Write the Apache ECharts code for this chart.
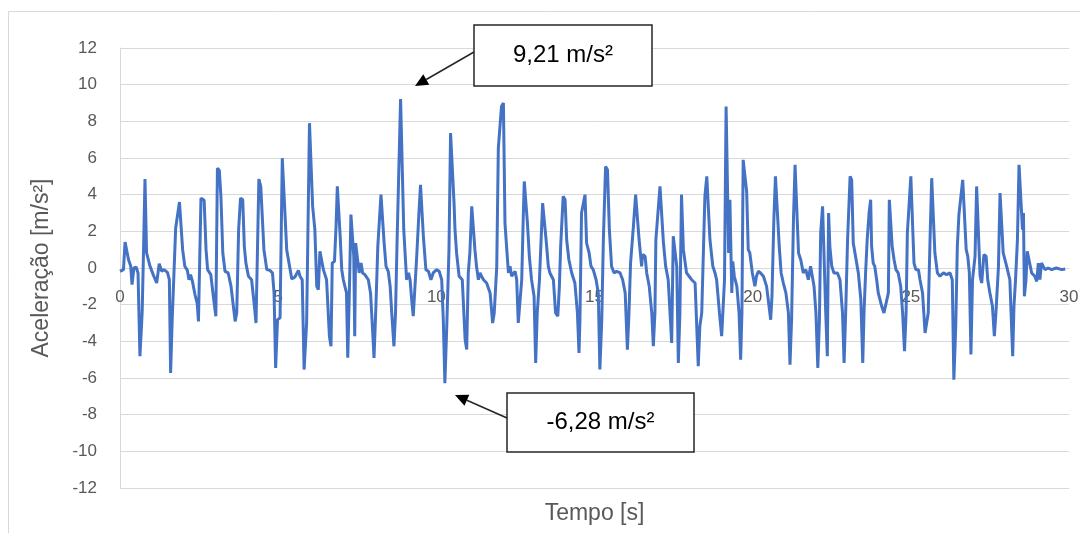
<!DOCTYPE html>
<html>
<head>
<meta charset="utf-8">
<script src="https://cdn.jsdelivr.net/npm/echarts@6/dist/echarts.min.js"></script>
<style>
html,body{margin:0;padding:0;background:#fff;}
#chart{width:1080px;height:533px;}
</style>
</head>
<body>
<div id="chart"></div>
<script>
// ---- DATA ----
const tempo = [
0,0.11,0.16,0.21,0.27,0.34,0.38,0.44,0.51,0.57,0.63,0.70,0.74,0.79,0.84,0.95,1.05,1.16,1.24,1.32,1.39,1.50,1.56,1.60,1.65,1.71,1.76,1.82,1.88,1.93,1.98,2.05,2.13,2.18,2.23,2.29,2.37,2.44,2.48,2.53,2.56,2.66,2.72,2.77,2.87,2.95,3.03,3.08,3.14,3.19,3.25,3.32,3.42,3.51,3.64,3.69,3.75,3.81,3.88,3.93,3.98,4.06,4.16,4.25,4.30,4.35,4.39,4.45,4.50,4.55,4.64,4.74,4.82,4.87,4.92,4.98,5.06,5.13,5.18,5.27,5.37,5.43,5.53,5.64,5.69,5.76,5.82,5.90,
5.99,6.04,6.09,6.14,6.16,6.22,6.27,6.32,6.38,6.43,6.48,6.53,6.62,6.67,6.71,6.78,6.83,6.87,6.91,6.96,7.01,7.06,7.11,7.16,7.20,7.25,7.30,7.34,7.39,7.42,7.45,7.50,7.56,7.62,7.67,7.74,7.85,7.92,7.99,8.03,8.09,8.15,8.19,8.25,8.29,8.35,8.41,8.48,8.54,8.59,8.66,8.71,8.76,8.82,8.87,8.92,8.97,9.02,9.06,9.12,9.17,9.22,9.27,9.32,9.38,9.45,9.50,9.55,9.59,9.67,9.75,9.83,9.90,10.01,10.09,10.17,10.22,10.27,10.33,10.40,10.45,10.50,10.56,10.59,10.64,10.72,10.82,10.91,10.96,11.01,11.06,11.12,11.17,11.22,11.27,11.33,11.38,11.43,11.49,11.59,11.70,11.78,11.83,
11.91,11.96,12.01,12.06,12.12,12.17,12.22,12.28,12.33,12.38,12.44,12.49,12.54,12.59,12.64,12.70,12.75,12.78,12.83,12.88,12.94,13.01,13.09,13.14,13.19,13.26,13.30,13.36,13.41,13.47,13.54,13.59,13.70,13.77,13.84,13.89,13.93,14.01,14.07,14.12,14.19,14.28,14.38,14.46,14.51,14.54,14.59,14.65,14.70,14.75,14.83,14.89,14.96,15.05,15.12,15.17,15.23,15.28,15.35,15.41,15.47,15.54,15.62,15.70,15.81,15.89,15.97,16.04,16.09,16.14,16.23,16.30,16.35,16.41,16.49,16.52,16.60,16.65,16.73,16.81,16.86,16.91,16.94,16.99,17.07,17.13,17.18,17.25,17.33,17.44,17.49,17.55,17.60,17.65,17.70,17.75,
17.81,17.86,17.91,17.99,18.07,18.18,18.28,18.33,18.39,18.49,18.55,18.60,18.65,18.74,18.81,18.86,18.95,19.02,19.07,19.11,19.16,19.20,19.24,19.28,19.34,19.37,19.42,19.50,19.57,19.62,19.66,19.70,19.75,19.81,19.86,19.91,19.99,20.07,20.12,20.18,20.25,20.34,20.44,20.53,20.57,20.61,20.67,20.72,20.78,20.84,20.90,20.97,21.05,21.13,21.18,21.23,21.29,21.34,21.39,21.45,21.52,21.60,21.68,21.76,21.83,21.89,21.94,22.00,22.06,22.11,22.15,22.21,22.27,22.31,22.36,22.40,22.44,22.50,22.57,22.68,22.76,22.84,22.89,22.94,23.00,23.08,23.13,23.18,23.27,23.34,23.42,23.48,23.52,23.57,23.62,23.68,23.73,
23.76,23.81,23.86,23.92,23.97,24.08,24.15,24.21,24.29,24.32,24.37,24.41,24.47,24.53,24.60,24.68,24.74,24.80,24.85,24.89,24.94,25.00,25.05,25.10,25.16,25.24,25.29,25.37,25.45,25.50,25.55,25.61,25.66,25.71,25.76,25.84,25.92,26.03,26.13,26.24,26.31,26.36,26.42,26.47,26.52,26.57,26.64,26.69,26.75,26.80,26.85,26.90,26.95,27.03,27.08,27.13,27.19,27.24,27.31,27.38,27.43,27.50,27.58,27.64,27.69,27.77,27.82,27.87,27.92,28.03,28.13,28.22,28.26,28.31,28.37,28.42,28.47,28.53,28.56,28.59,28.64,28.68,28.74,28.82,28.87,28.92,28.98,29.03,29.08,29.13,29.19,29.24,29.34,29.45,29.60,29.77,29.88
];
const aceleracao = [
-0.18,-0.09,1.42,1.36,0.45,0.09,-0.91,0,0.05,-0.27,-4.81,-2.45,0.64,4.85,0.82,0.09,-0.36,-0.82,0.24,-0.18,-0.09,-0.24,-0.64,-5.72,-2.82,-2.82,2.18,2.27,3.60,3.54,1.0,0.09,-0.13,-0.64,-0.36,-0.73,-1.45,-1.91,-2.91,-2.85,3.81,3.69,1.0,-0.09,-0.36,-1.54,-2.63,5.45,5.32,3.91,0.82,-0.18,-0.27,-1.0,-2.91,-2.45,2.09,3.81,3.72,1.18,0.27,-0.45,-0.64,-2.09,-3.0,-3.0,4.85,4.45,4.49,1.0,-0.09,-0.13,-0.27,-1.36,-5.45,-2.82,-2.72,5.99,5.9,1.0,0,-0.6,-0.49,-0.13,-0.45,-0.64,-5.54,-3.0,
7.9,7.81,3.36,3.45,2.09,-1.0,-1.18,0.91,1.0,-0.09,-0.09,-0.64,-3.72,-4.27,0.27,0.36,2.27,4.45,4.45,1.73,-0.09,-0.64,-1.0,-1.36,-4.9,-1.36,2.91,2.82,0.64,-3.72,1.36,1.45,-0.27,0.27,-0.27,-0.36,-0.64,-1.36,-3.54,-4.9,-2.09,1.18,1.18,4.0,3.91,1.36,0.09,-0.18,-1.0,-2.45,-4.27,-2.45,1.54,1.54,9.21,9.17,2.09,2.0,-0.64,-0.27,-0.64,-1.73,-2.63,-2.54,0.64,3.0,4.54,4.45,1.73,-0.09,-0.18,-0.64,-0.27,-0.09,-0.18,-0.64,-2.82,-6.28,-3.18,1.0,7.36,7.27,3.54,2.09,0.82,-0.45,-0.64,-3.9,-4.45,-0.27,0.82,3.36,3.36,1.0,0.09,-0.64,-0.27,-0.45,-0.64,-0.82,-1.36,-3.0,-2.45,
0.09,6.54,6.54,8.81,9.0,2.45,1.18,-0.27,0.09,-0.45,-0.45,-0.18,-0.64,-3.0,-3.0,-0.64,2.91,4.72,4.63,2.45,0.64,-0.64,-1.54,-5.18,-2.45,-0.64,-0.64,3.54,3.45,1.54,0.09,-0.27,-0.64,-2.45,-2.63,-1.0,1.18,3.91,3.72,1.54,0.45,-0.27,-0.82,-2.45,-4.63,-2.82,3.0,3.0,4.0,1.36,0.82,0.09,-0.09,-0.64,-1.36,-5.54,-2.82,1.54,5.54,5.36,2.09,0.09,-0.27,-0.18,-0.27,-0.64,-1.36,-4.45,-2.45,0.27,2.27,4.0,4.0,1.54,0.09,0.73,0.64,-0.27,-1.0,-2.45,-4.27,-2.45,1.54,1.54,4.45,4.36,1.36,0.09,-0.64,-4.09,1.73,1.73,0.09,-5.18,-2.45,4.0,
1.0,0.91,-0.27,-0.45,-0.64,-0.82,-5.36,-3.18,-2.45,3.91,5.0,5.0,1.54,0.09,-0.27,-0.64,-2.45,-3.72,-3.72,-0.64,8.81,8.72,0.82,3.72,-1.36,0.36,-0.45,-1.0,-2.45,-5.0,-2.45,5.9,5.9,4.18,1.0,0.82,-0.27,-1.0,-0.45,-0.18,-0.27,-0.45,-1.0,-2.27,-2.82,-1.54,2.63,5.0,4.9,1.18,-0.27,-0.82,-1.36,-2.45,-5.27,-2.82,2.63,5.63,5.54,0.82,0.45,-0.27,-0.09,-0.64,0.09,0.09,-1.0,-2.45,-5.45,-2.82,1.91,3.36,3.36,-2.45,-4.81,3.0,1.18,0.09,-0.27,-0.27,-0.64,-2.45,-5.18,-2.45,1.54,5.0,4.81,1.36,0.45,-0.27,-1.73,-5.18,-2.45,-0.27,1.54,3.0,3.72,
1.18,0.27,0.09,-0.64,-1.36,-2.09,-2.45,-2.45,-1.36,3.72,3.63,1.18,0.45,-0.09,-0.27,-1.0,-2.45,-4.54,-2.45,1.91,1.91,5.0,5.0,0.27,-0.09,-0.09,-0.64,-1.36,-3.54,-3.54,-2.45,1.73,4.9,4.81,0.82,-0.27,-0.45,-0.27,-0.36,-0.27,-0.64,-6.09,-3.18,1.18,2.91,3.0,4.81,4.72,1.0,0.64,-0.27,-4.72,-0.64,0.64,4.45,4.45,-0.45,-0.82,0.73,0.64,-0.64,-1.36,-2.09,-3.72,-2.45,0.09,4.09,4.09,0.82,0.09,-0.64,-4.81,-2.09,-0.64,1.54,5.63,5.54,2.09,3.0,-1.54,-0.64,0.91,0.91,-0.27,-0.27,-0.45,-0.73,0.27,-0.64,0.27,0.36,-0.09,0.0,-0.09,0.0,-0.09,-0.05
];
const xMin = 0, xMax = 30, xInterval = 5;
const yMin = -12, yMax = 12, yInterval = 2;
const nomeX = 'Tempo [s]';
const nomeY = 'Aceleração [m/s²]';
const picoMax = 9.21;
const picoMin = -6.28;
const fmt = v => v.toFixed(2).replace('.', ',') + ' m/s²';

const serie = tempo.map((t, i) => [t, aceleracao[i]]);

const chart = echarts.init(document.getElementById('chart'), null, {renderer: 'canvas'});
const fontFam = '"Liberation Sans", Arial, sans-serif';
const gray = '#595959';
const gridCol = '#d9d9d9';

// grid geometry (layout only)
const gTop = 48, gBottom = 45, gH = 533 - gTop - gBottom;
// shift the x axis up so it crosses the y axis at zero
const zeroOffset = -gH * (0 - yMin) / (yMax - yMin);

function arrow(x1, y1, x2, y2) {
  const dx = x2 - x1, dy = y2 - y1, L = Math.hypot(dx, dy);
  const ux = dx / L, uy = dy / L, hl = 13, hw = 6;
  const bx = x2 - ux * hl, by = y2 - uy * hl;
  const px = -uy, py = ux;
  return [
    {type: 'line', shape: {x1: x1, y1: y1, x2: bx, y2: by}, style: {stroke: '#262626', lineWidth: 1.5}, z: 100},
    {type: 'polygon', shape: {points: [[x2, y2], [bx + px * hw, by + py * hw], [bx - px * hw, by - py * hw]]}, style: {fill: '#000'}, z: 100}
  ];
}

function caixa(x, y, w, h, txt) {
  return [
    {type: 'rect', shape: {x: x, y: y, width: w, height: h}, style: {fill: '#fff', stroke: '#262626', lineWidth: 1.5}, z: 100},
    {type: 'text', x: x + w / 2, y: y + h / 2, style: {text: txt, fill: '#000', font: '24px ' + fontFam, textAlign: 'center', textVerticalAlign: 'middle'}, z: 101}
  ];
}

chart.setOption({
  animation: false,
  backgroundColor: '#fff',
  grid: {left: 120, right: 11, top: gTop, bottom: gBottom, containLabel: false, outerBoundsMode: 'none'},
  xAxis: {
    type: 'value', min: xMin, max: xMax, interval: xInterval,
    position: 'bottom', offset: zeroOffset,
    name: nomeX, nameLocation: 'middle', nameGap: 234,
    nameTextStyle: {color: gray, fontSize: 23, fontFamily: fontFam},
    axisLine: {show: true, onZero: false, lineStyle: {color: gridCol, width: 1}},
    axisTick: {show: false},
    axisLabel: {color: gray, fontSize: 17, fontFamily: fontFam, margin: 21},
    splitLine: {show: false}
  },
  yAxis: {
    type: 'value', min: yMin, max: yMax, interval: yInterval,
    name: nomeY, nameLocation: 'middle', nameGap: 67,
    nameTextStyle: {color: gray, fontSize: 23, fontFamily: fontFam},
    axisLine: {show: true, onZero: false, lineStyle: {color: gridCol, width: 1}},
    axisTick: {show: false},
    axisLabel: {color: gray, fontSize: 17, fontFamily: fontFam, margin: 23},
    splitLine: {show: true, lineStyle: {color: gridCol, width: 1}}
  },
  series: [{
    type: 'line', data: serie, showSymbol: false, symbol: 'none',
    lineStyle: {color: '#4472C4', width: 3},
    sampling: null, z: 3
  }],
  graphic: [
    {type: 'rect', shape: {x: 8.5, y: 11.5, width: 1200, height: 700}, style: {fill: null, stroke: gridCol, lineWidth: 1}, z: -10, silent: true}
  ].concat(
    arrow(474, 52, 415, 86),
    caixa(474, 25, 178, 61, fmt(picoMax)),
    arrow(507, 418, 455, 395),
    caixa(507, 393, 187, 59, fmt(picoMin))
  )
});
</script>
</body>
</html>
